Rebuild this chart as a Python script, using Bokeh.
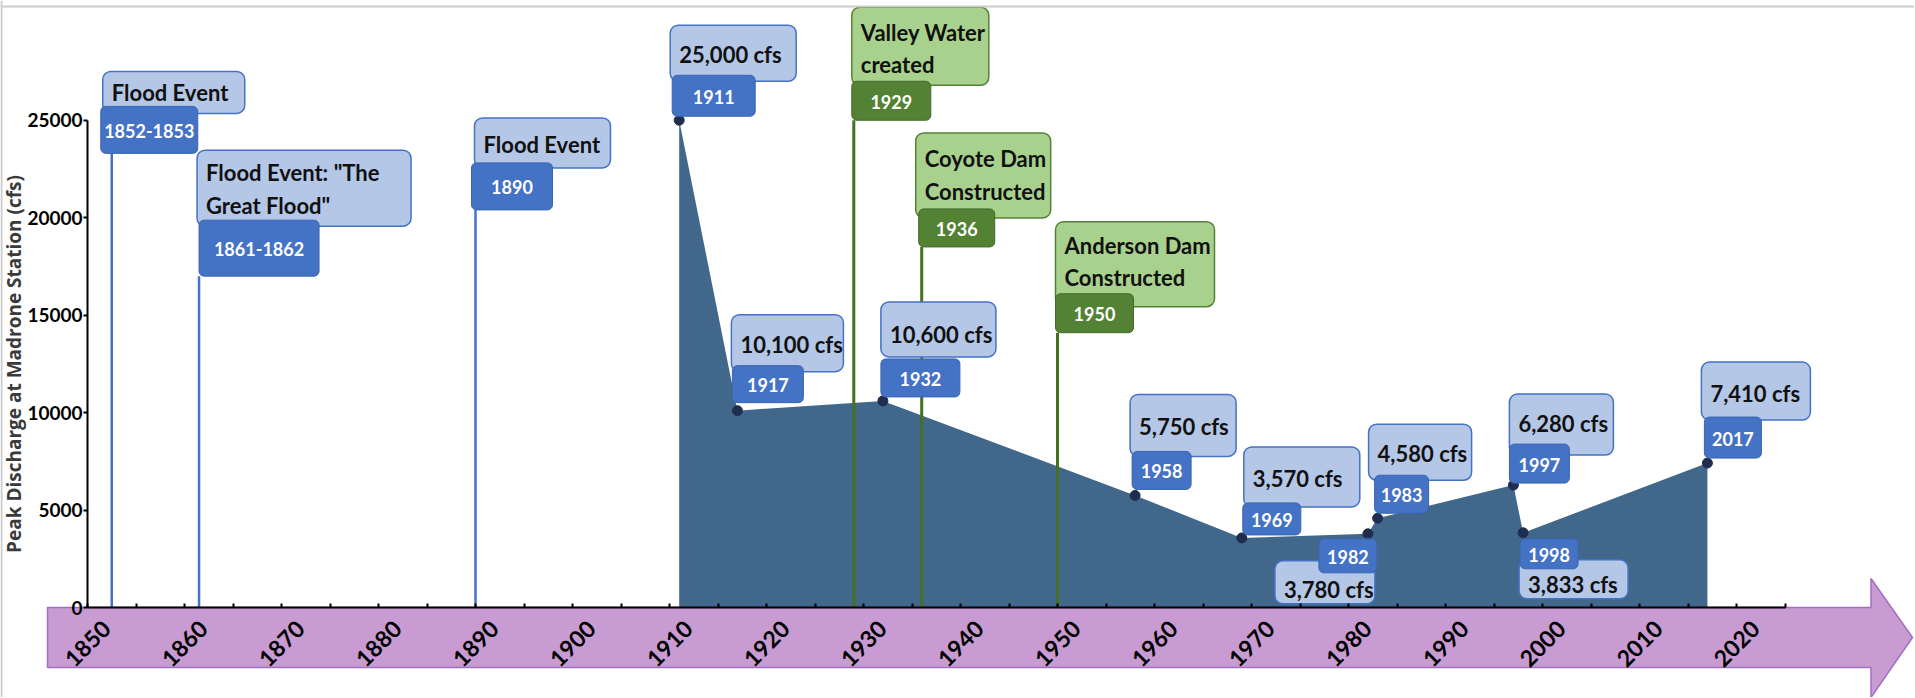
import math
from bokeh.plotting import figure
from bokeh.models import (Range1d, LinearAxis, SingleIntervalTicker, FixedTicker,
                          CustomJSTickFormatter, ColumnDataSource, Span)
from bokeh.core.properties import value
from bokeh.embed import file_html
from bokeh.resources import INLINE

# ---------------- data ----------------
peak_years = [1911, 1917, 1932, 1958, 1969, 1982, 1983, 1997, 1998, 2017]
peak_cfs = [25000, 10100, 10600, 5750, 3570, 3780, 4580, 6280, 3833, 7410]
peak_labels = ["25,000 cfs", "10,100 cfs", "10,600 cfs", "5,750 cfs", "3,570 cfs",
               "3,780 cfs", "4,580 cfs", "6,280 cfs", "3,833 cfs", "7,410 cfs"]
peak_year_labels = ["1911", "1917", "1932", "1958", "1969",
                    "1982", "1983", "1997", "1998", "2017"]

flood_years = [1852.5, 1861.5, 1890]
flood_year_labels = ["1852-1853", "1861-1862", "1890"]
flood_titles = ["Flood Event", "Flood Event: \"The\nGreat Flood\"", "Flood Event"]

milestone_years = [1929, 1936, 1950]
milestone_year_labels = ["1929", "1936", "1950"]
milestone_titles = ["Valley Water\ncreated", "Coyote Dam\nConstructed", "Anderson Dam\nConstructed"]

decade_ticks = list(range(1850, 2021, 10))
decade_labels = [str(d) for d in decade_ticks]
y_ticks = [0, 5000, 10000, 15000, 20000, 25000]
y_title = "Peak Discharge at Madrone Station (cfs)"

# ---------------- layout (pixels) ----------------
W, H = 1914, 697
X_START, X_END = 1850, 2025
PPX = 9.7          # px per year
PPY = 0.01949      # px per cfs
ORIGIN_X = 87      # canvas px of x = 1850
ORIGIN_Y = 607     # canvas px (from top) of y = 0
x0 = X_START - ORIGIN_X / PPX
x1 = x0 + W / PPX
y1 = ORIGIN_Y / PPY
y0 = y1 - H / PPY

# label heights (cfs level where the event stem ends)
flood_level = [23300, 17000, 20400]
milestone_level = [25000, 18500, 14100]

# callout boxes, px offsets from anchor: light(l, r, t, b), dark(l, r, t, b)
peak_box_px = [
    (-9, 117, -95, -39, -7, 76, -45, -4),
    (-6, 106, -96, -39, -5, 66, -45, -8),
    (-2, 113, -99, -44, -2, 77, -42, -4),
    (-5, 101, -101, -39, -3, 56, -44, -6),
    (2, 118, -91, -31, 1, 59, -35, -3),
    (-93, 7, 27, 70, -49, 9, 5, 39),
    (-9, 94, -94, -38, -3, 51, -43, -5),
    (-4, 100, -91, -30, -4, 56, -41, -2),
    (-4, 105, 27, 66, -3, 55, 6, 36),
    (-6, 103, -101, -43, -3, 54, -46, -5),
]
flood_box_px = [
    (-9, 133, -82, -40, -11, 86, -47, 0),
    (-2, 212, -126, -50, 0, 120, -56, 0),
    (-1, 135, -92, -42, -4, 77, -47, 0),
]
milestone_box_px = [
    (-2, 135, -113, -35, -2, 77, -39, 0),
    (-6, 129, -114, -29, -3, 73, -38, 0),
    (-2, 157, -111, -26, -2, 76, -39, 0),
]

LIGHT_BLUE, BLUE, BLUE_EDGE = "#b4c7e7", "#4472c4", "#3b65b3"
LIGHT_GREEN, GREEN, GREEN_EDGE = "#a9d18e", "#548235", "#41692a"
AREA = "#41678a"
FONT = value("Lato")


def build(xs, ys, titles, years_txt, boxes):
    L = dict(left=[], right=[], top=[], bottom=[])
    D = dict(left=[], right=[], top=[], bottom=[])
    LT = dict(x=[], y=[], text=[])
    DT = dict(x=[], y=[], text=[])
    for x, y, t, yt, b in zip(xs, ys, titles, years_txt, boxes):
        ll, lr, lt, lb, dl, dr, dtp, db = b
        L["left"].append(x + ll / PPX); L["right"].append(x + lr / PPX)
        L["top"].append(y - lt / PPY); L["bottom"].append(y - lb / PPY)
        D["left"].append(x + dl / PPX); D["right"].append(x + dr / PPX)
        D["top"].append(y - dtp / PPY); D["bottom"].append(y - db / PPY)
        if lt > 0:
            ty = (db + lb) / 2 + 1
        else:
            ty = (lt + dtp) / 2 + 4
        LT["x"].append(x + (ll + 9) / PPX); LT["y"].append(y - ty / PPY); LT["text"].append(t)
        DT["x"].append(x + (dl + dr) / 2 / PPX)
        DT["y"].append(y - ((dtp + db) / 2 + 1) / PPY)
        DT["text"].append(yt)
    return L, D, LT, DT


p = figure(width=W, height=H, x_range=Range1d(x0, x1), y_range=Range1d(y0, y1),
           output_backend="svg", toolbar_location=None, x_axis_type=None, y_axis_type=None,
           min_border=0)
p.outline_line_color = None
p.background_fill_color = "white"

# thin grey frame at the top and left of the picture
p.add_layout(Span(location=y1 - 6 / PPY, dimension="width", line_color="#cccccc", line_width=2))
p.add_layout(Span(location=x0 + 1 / PPX, dimension="height", line_color="#cccccc", line_width=2))

# purple timeline arrow under the x axis
band_left = X_START - 40 / PPX
head_x = X_END + 86 / PPX
tip_x = x1 - 2 / PPX
band_top, band_bot = 0, -60 / PPY
head_top, head_bot, mid = 29 / PPY, -90 / PPY, -30 / PPY
p.patch([band_left, head_x, head_x, tip_x, head_x, head_x, band_left],
        [band_top, band_top, head_top, mid, head_bot, band_bot, band_bot],
        fill_color="#c99bd3", line_color="#a36fc2", line_width=1.5)
p.text(x=decade_ticks, y=[-36 / PPY] * len(decade_ticks), text=decade_labels,
       angle=math.pi / 4, text_align="center", text_baseline="middle",
       text_font=FONT, text_font_style="bold", text_font_size="23px", text_color="black")

# peak discharge area
p.varea(x=peak_years, y1=[0] * len(peak_years), y2=peak_cfs, fill_color=AREA)

# event stems
p.segment(x0=flood_years, y0=[0] * 3, x1=flood_years, y1=flood_level,
          line_color=BLUE, line_width=2.5)
p.segment(x0=milestone_years, y0=[0] * 3, x1=milestone_years, y1=milestone_level,
          line_color="#46701f", line_width=3)

p.scatter(x=peak_years, y=peak_cfs, size=10, color="#1f2d4e")

groups = [
    build(peak_years, peak_cfs, peak_labels, peak_year_labels, peak_box_px) + (LIGHT_BLUE, BLUE, BLUE_EDGE),
    build(flood_years, flood_level, flood_titles, flood_year_labels, flood_box_px) + (LIGHT_BLUE, BLUE, BLUE_EDGE),
    build(milestone_years, milestone_level, milestone_titles, milestone_year_labels, milestone_box_px) + (LIGHT_GREEN, GREEN, GREEN_EDGE),
]
for L, D, LT, DT, lc, dc, de in groups:
    p.quad(source=ColumnDataSource(L), left="left", right="right", top="top", bottom="bottom",
           fill_color=lc, line_color=dc, line_width=1.5, border_radius=8)
for L, D, LT, DT, lc, dc, de in groups:
    p.quad(source=ColumnDataSource(D), left="left", right="right", top="top", bottom="bottom",
           fill_color=dc, line_color=de, line_width=1, border_radius=5)
for L, D, LT, DT, lc, dc, de in groups:
    p.text(source=ColumnDataSource(LT), x="x", y="y", text="text", text_align="left",
           text_baseline="middle", text_font=FONT, text_font_style="bold",
           text_font_size="22px", text_color="#111111", text_line_height=1.2)
    p.text(source=ColumnDataSource(DT), x="x", y="y", text="text", text_align="center",
           text_baseline="middle", text_font=FONT, text_font_style="bold",
           text_font_size="18px", text_color="white")

# axes drawn at fixed data locations
xaxis = LinearAxis(fixed_location=0, ticker=SingleIntervalTicker(interval=5, num_minor_ticks=0),
                   bounds=(X_START, X_END), formatter=CustomJSTickFormatter(code="return ''"),
                   major_tick_in=4, major_tick_out=0, major_tick_line_width=2,
                   axis_line_width=2, axis_line_color="black", major_tick_line_color="black",
                   minor_tick_line_color=None)
p.add_layout(xaxis, "below")
yaxis = LinearAxis(fixed_location=X_START, ticker=FixedTicker(ticks=y_ticks), bounds=(0, 25000),
                   axis_label=y_title, axis_label_standoff=-3,
                   axis_label_text_font="Open Sans", axis_label_text_font_style="bold",
                   axis_label_text_font_size="19px", axis_label_text_color="#3a3a3a",
                   major_label_text_font="Lato", major_label_text_font_style="bold",
                   major_label_text_font_size="19px", major_label_text_color="black",
                   major_label_standoff=1, major_tick_in=0, major_tick_out=4,
                   major_tick_line_width=2, minor_tick_line_color=None,
                   axis_line_width=2, axis_line_color="black")
p.add_layout(yaxis, "left")

open("out.html", "w").write(file_html(p, INLINE))
